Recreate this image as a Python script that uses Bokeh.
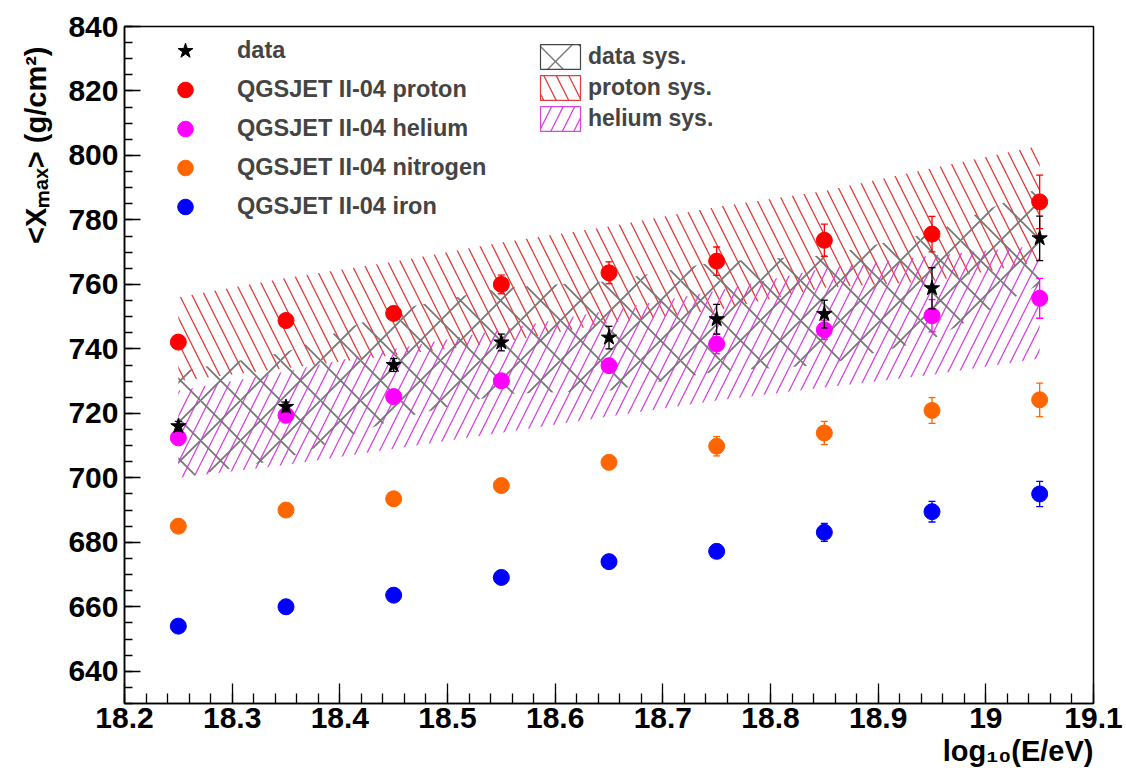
import numpy as np
from bokeh.plotting import figure
from bokeh.models import Legend, LegendItem, FixedTicker, Range1d, NumeralTickFormatter, Title
from bokeh.embed import file_html
from bokeh.resources import INLINE

# ---------------- data ----------------
energy = [18.25, 18.35, 18.45, 18.55, 18.65, 18.75, 18.85, 18.95, 19.05]

data_xmax = [716, 722, 735, 742, 743.5, 749.2, 750.8, 758.8, 774.3]
data_err = [1.5, 1.5, 2, 2.6, 3.5, 4.6, 4.3, 6.4, 6.9]
data_sys_lo = [700, 706, 718, 726, 727, 733, 735, 743, 760]
data_sys_hi = [733, 739, 752, 759, 761, 767, 769, 776, 790]

proton = [742.1, 748.8, 751, 760, 763.6, 767.2, 773.7, 775.6, 785.6]
proton_err = [1.5, 1.5, 2, 2.9, 3.4, 4.4, 5, 5.5, 8.3]
proton_sys_lo = [730, 734, 738, 742, 748, 752, 759, 761, 767]
proton_sys_hi = [756, 762, 767, 773, 778, 784, 789, 796, 803]

helium = [712.4, 719.4, 725.2, 730.1, 734.8, 741.5, 745.9, 750.3, 755.7]
helium_err = [1, 1.5, 1.5, 2, 2, 3, 3, 5, 6.2]
helium_sys_lo = [700, 704, 709, 714, 719, 724, 728, 732, 737]
helium_sys_hi = [727, 733, 740, 746, 752, 758, 765, 769, 772]

nitrogen = [685, 690, 693.5, 697.6, 704.8, 709.8, 713.9, 720.9, 724.2]
nitrogen_err = [1, 1, 1.5, 1.5, 2, 3, 3.6, 4, 5.2]

iron = [654, 660, 663.6, 669.1, 674, 677.2, 683.1, 689.5, 695]
iron_err = [1, 1, 1, 1, 1.5, 1.5, 2.8, 3.2, 3.9]

x_ticks = [18.2, 18.3, 18.4, 18.5, 18.6, 18.7, 18.8, 18.9, 19.0, 19.1]
y_ticks = [640, 660, 680, 700, 720, 740, 760, 780, 800, 820, 840]

x_title = "log₁₀(E/eV)"
y_title = "<Xₘₐₓ> (g/cm²)"

FONT = "Liberation Sans"
RED_H = "#e23c3c"
PINK_H = "#d844e0"
GRAY_H = "#777777"

p = figure(width=1126, height=776, x_range=Range1d(18.2, 19.1), y_range=Range1d(630, 840),
           output_backend="svg", toolbar_location=None,
           min_border_left=124, min_border_right=33, min_border_top=26, min_border_bottom=73)
p.xgrid.visible = False
p.ygrid.visible = False
p.outline_line_color = "black"
p.outline_line_width = 1.5
p.background_fill_color = "white"
p.border_fill_color = "white"

# ---------------- systematic bands ----------------
def band(lo, hi):
    xs = list(energy) + list(energy[::-1])
    ys = list(hi) + list(lo[::-1])
    return xs, ys

xs, ys = band(proton_sys_lo, proton_sys_hi)
p.patch(xs, ys, fill_alpha=0, line_alpha=0, hatch_pattern="\\", hatch_color=RED_H,
        hatch_scale=25, hatch_weight=1.3)
xs, ys = band(helium_sys_lo, helium_sys_hi)
p.patch(xs, ys, fill_alpha=0, line_alpha=0, hatch_pattern="/", hatch_color=PINK_H,
        hatch_scale=23, hatch_weight=1.3)
xs, ys = band(data_sys_lo, data_sys_hi)
p.patch(xs, ys, fill_alpha=0, line_alpha=0, hatch_pattern="x", hatch_color=GRAY_H,
        hatch_scale=40, hatch_weight=1.8)

# ---------------- error bars + markers ----------------
def errbars(vals, errs, color):
    lo = [v - e for v, e in zip(vals, errs)]
    hi = [v + e for v, e in zip(vals, errs)]
    p.segment(x0=energy, y0=lo, x1=energy, y1=hi, line_color=color, line_width=1.3)
    p.scatter(energy, lo, marker="dash", size=7, line_color=color, line_width=1.3)
    p.scatter(energy, hi, marker="dash", size=7, line_color=color, line_width=1.3)

series = [
    (iron, iron_err, "#0000ff"),
    (nitrogen, nitrogen_err, "#ff6600"),
    (helium, helium_err, "#ff00ff"),
    (proton, proton_err, "#ff0000"),
]
circle_r = {}
for vals, errs, col in series:
    errbars(vals, errs, col)
    circle_r[col] = p.scatter(energy, vals, marker="circle", size=16, fill_color=col, line_color=col)

errbars(data_xmax, data_err, "black")
r_data = p.scatter(energy, data_xmax, marker="star", size=16, fill_color="black", line_color="black")

# ---------------- legends ----------------
leg1 = Legend(items=[
    LegendItem(label="data", renderers=[r_data]),
    LegendItem(label="QGSJET II-04 proton", renderers=[circle_r["#ff0000"]]),
    LegendItem(label="QGSJET II-04 helium", renderers=[circle_r["#ff00ff"]]),
    LegendItem(label="QGSJET II-04 nitrogen", renderers=[circle_r["#ff6600"]]),
    LegendItem(label="QGSJET II-04 iron", renderers=[circle_r["#0000ff"]]),
], location=(40, 477), padding=0, margin=0, spacing=0, glyph_width=42, glyph_height=39,
    label_height=39, label_standoff=31, border_line_color=None, background_fill_alpha=0,
    label_text_font=FONT, label_text_font_style="bold", label_text_font_size="23.5px")
p.add_layout(leg1)

# legend-only swatches (single NaN row: nothing is drawn inside the frame)
nan = [float("nan")]
d1 = p.quad(left=nan, right=nan, bottom=nan, top=nan, fill_alpha=0, line_color="#444444", line_width=1.2,
            hatch_pattern="x", hatch_color=GRAY_H, hatch_scale=40, hatch_weight=1.4)
d2 = p.quad(left=nan, right=nan, bottom=nan, top=nan, fill_alpha=0, line_color=RED_H, line_width=1.2,
            hatch_pattern="\\", hatch_color=RED_H, hatch_scale=25, hatch_weight=1.3)
d3 = p.quad(left=nan, right=nan, bottom=nan, top=nan, fill_alpha=0, line_color=PINK_H, line_width=1.2,
            hatch_pattern="/", hatch_color=PINK_H, hatch_scale=23, hatch_weight=1.3)
leg2 = Legend(items=[
    LegendItem(label="data sys.", renderers=[d1]),
    LegendItem(label="proton sys.", renderers=[d2]),
    LegendItem(label="helium sys.", renderers=[d3]),
], location=(411, 569), padding=0, margin=0, spacing=0, glyph_width=50, glyph_height=31,
    label_height=31, label_standoff=3, border_line_color=None, background_fill_alpha=0,
    label_text_font=FONT, label_text_font_style="bold", label_text_font_size="23px")
p.add_layout(leg2)

# ---------------- axes ----------------
xa = p.xaxis[0]
ya = p.yaxis[0]
xa.ticker = FixedTicker(ticks=x_ticks, minor_ticks=list(np.round(np.arange(18.2, 19.1001, 0.02), 3)))
ya.ticker = FixedTicker(ticks=y_ticks, minor_ticks=list(range(630, 841, 5)))
xa.formatter = NumeralTickFormatter(format="0.[0]")
for ax in (xa, ya):
    ax.major_tick_out = 0
    ax.minor_tick_out = 0
    ax.axis_line_color = "black"
    ax.axis_line_width = 1.5
    ax.major_tick_line_width = 1.3
    ax.minor_tick_line_width = 1.3
    ax.major_label_text_font = FONT
    ax.major_label_text_font_style = "bold"
    ax.major_label_text_font_size = "30px"
    ax.major_label_text_color = "black"
xa.major_tick_in = 20
xa.minor_tick_in = 10
ya.major_tick_in = 16
ya.minor_tick_in = 8
xa.major_label_standoff = 4
ya.major_label_standoff = 6

# axis titles (ROOT style: aligned to the far end of each axis)
tx = Title(text=x_title, align="right", text_font=FONT, text_font_style="bold",
           text_font_size="29px", text_color="black", standoff=4, offset=0)
p.add_layout(tx, "below")
ty = Title(text=y_title, align="right", text_font=FONT, text_font_style="bold",
           text_font_size="29px", text_color="black", standoff=28, offset=20)
p.add_layout(ty, "left")

open("out.html", "w").write(file_html(p, INLINE))
